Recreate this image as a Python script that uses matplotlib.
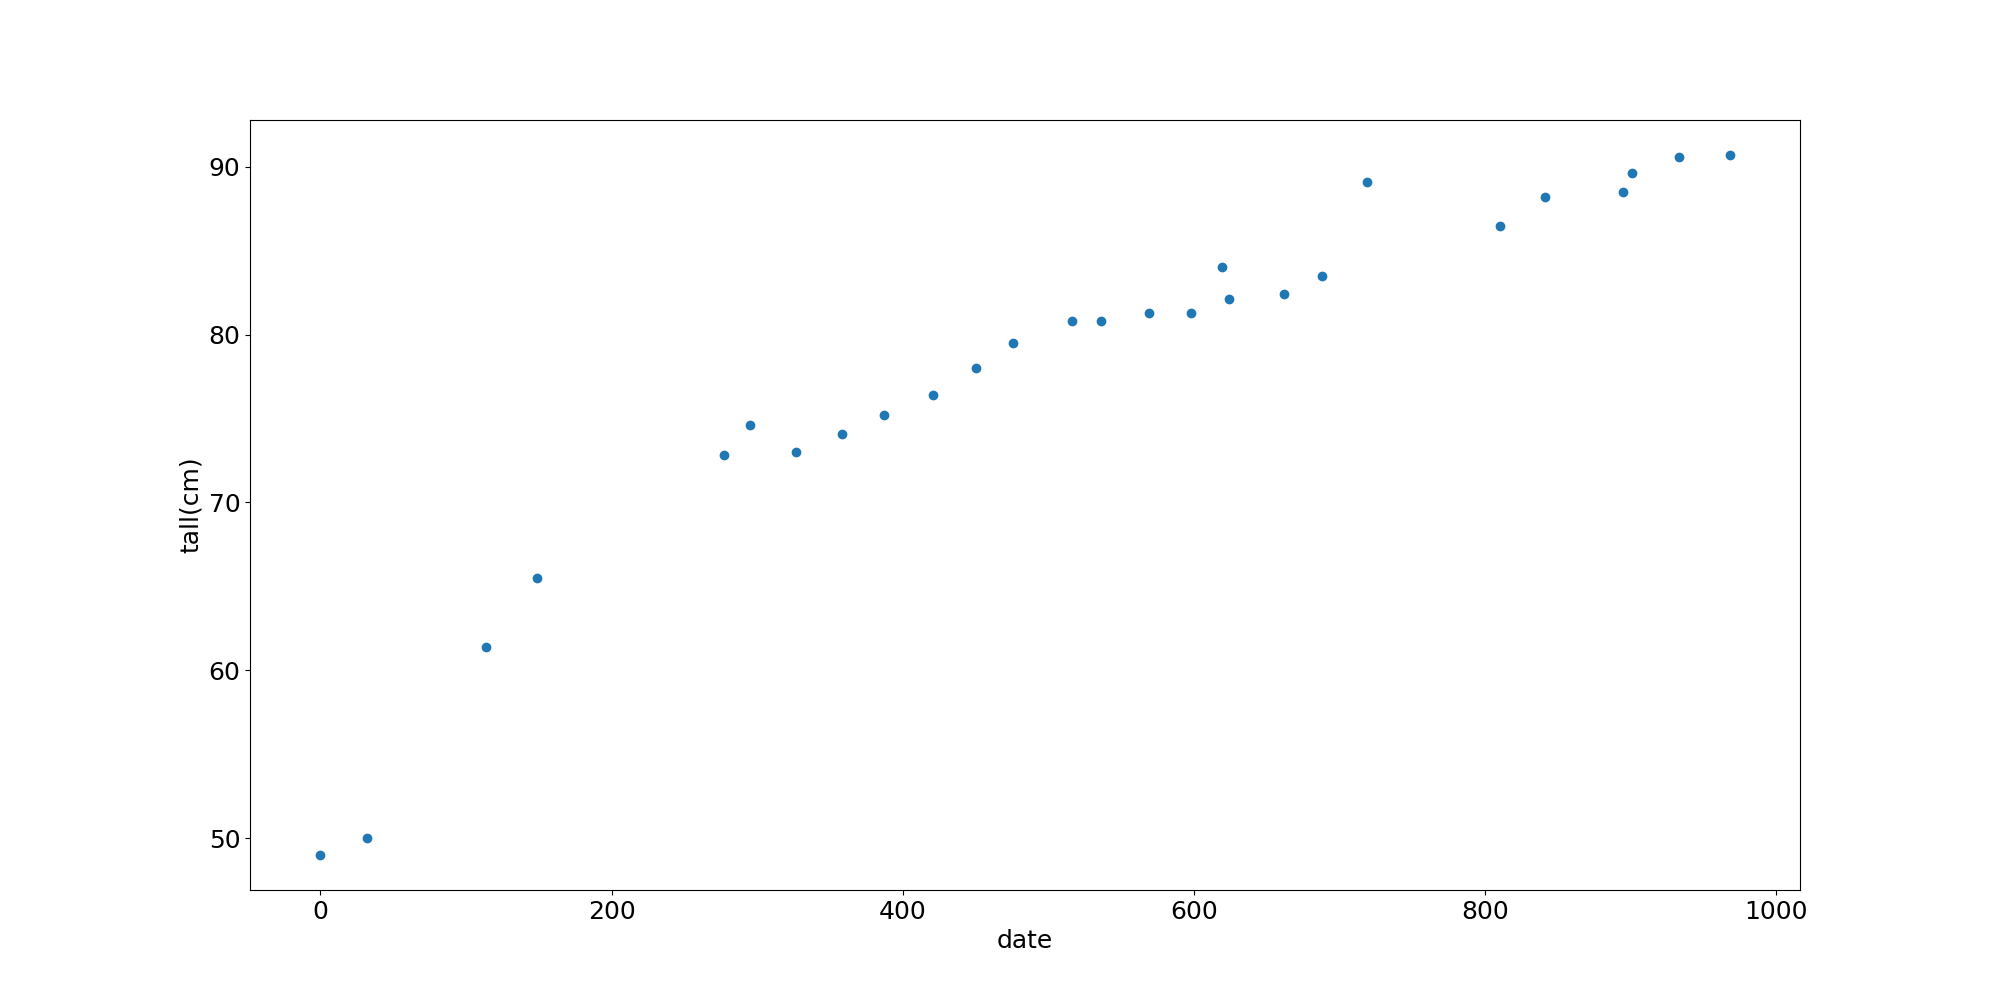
import matplotlib.pyplot as plt
import matplotlib as mpl

mpl.rcParams['font.size'] = 18

# days since birth and height
date = [0, 32, 114, 149, 277, 295, 327, 358, 387, 421, 450, 476,
        516, 536, 569, 598, 619, 624, 662, 688, 719, 810, 841, 895, 901, 933, 968]
tall = [49.0, 50.0, 61.4, 65.5, 72.8, 74.6, 73.0, 74.1, 75.2, 76.4, 78.0, 79.5,
        80.8, 80.8, 81.3, 81.3, 84.0, 82.1, 82.4, 83.5, 89.1, 86.5, 88.2, 88.5, 89.6, 90.6, 90.7]

fig = plt.figure(figsize=(20, 10))
ax = plt.subplot(111)
ax.scatter(date, tall)
ax.set_xlabel('date')
ax.set_ylabel('tall(cm)')
plt.savefig('out.png', dpi=100)
